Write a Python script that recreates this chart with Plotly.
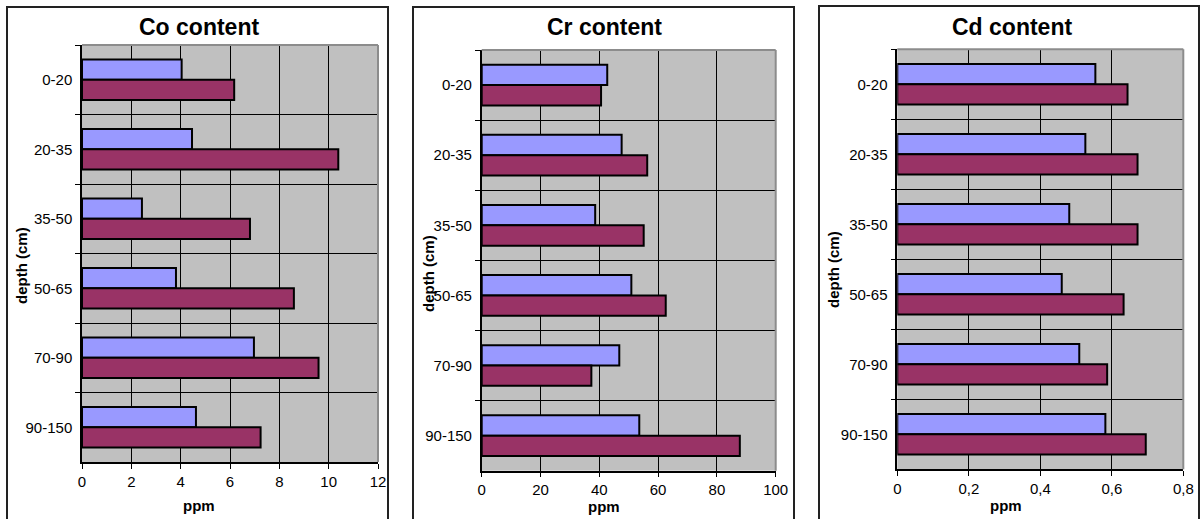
import plotly.graph_objects as go

depths = ["0-20", "20-35", "35-50", "50-65", "70-90", "90-150"]

co_blue = [4.04, 4.46, 2.43, 3.81, 6.97, 4.62]
co_red = [6.17, 10.39, 6.81, 8.59, 9.59, 7.24]

cr_blue = [42.7, 47.6, 38.6, 50.9, 46.8, 53.6]
cr_red = [40.6, 56.3, 55.1, 62.6, 37.3, 87.8]

cd_blue = [0.554, 0.526, 0.481, 0.460, 0.509, 0.582]
cd_red = [0.644, 0.672, 0.672, 0.633, 0.587, 0.695]

titles = ["Co content", "Cr content", "Cd content"]
x_ranges = [[0, 12], [0, 100], [0, 0.8]]
x_dticks = [2, 20, 0.2]

W, H = 1200, 519
BLUE = "#9999FF"
RED = "#993366"
FONT = "Arial, Liberation Sans, sans-serif"


def px(x):
    return x / W


def py(y):
    return 1 - y / H


# plot areas in pixels: (left, right, top, bottom)
areas = [(82, 378, 45, 462), (481.7, 775.7, 50, 470.7), (897.3, 1183.3, 49.3, 469.3)]
frames = [(7, 388, 7), (413, 794, 7), (819, 1199, 6)]
title_pos = [(199, 27), (604, 27), (1012, 27)]
ytitle_pos = [(21, 266), (428, 274), (833, 270)]
xtitle_pos = [(199, 505), (604, 506), (1006, 505)]

series = [(co_blue, co_red), (cr_blue, cr_red), (cd_blue, cd_red)]

fig = go.Figure()
layout = dict(
    template="none",
    width=W, height=H, autosize=False,
    margin=dict(l=0, r=0, t=0, b=0, pad=0),
    paper_bgcolor="white",
    plot_bgcolor="#C0C0C0",
    showlegend=False,
    barmode="group",
    bargap=0.42,
    bargroupgap=0,
    separators=", ",
    font=dict(family=FONT, size=15, color="black"),
)

shapes = []
annotations = []

for i, (blue, red) in enumerate(series):
    sfx = "" if i == 0 else str(i + 1)
    xa, ya = "x" + sfx, "y" + sfx
    for vals, col in ((blue, BLUE), (red, RED)):
        fig.add_trace(go.Bar(
            y=depths, x=vals, orientation="h",
            marker=dict(color=col, line=dict(color="black", width=2)),
            xaxis=xa, yaxis=ya, hoverinfo="x+y",
        ))
    l, r, t, b = areas[i]
    layout["xaxis" + sfx] = dict(
        domain=[px(l), px(r)], anchor=ya, range=x_ranges[i], dtick=x_dticks[i],
        tick0=0, showgrid=True, gridcolor="black", gridwidth=1, zeroline=False,
        showline=True, linecolor="black", linewidth=1.5, automargin=False,
        ticks="outside", ticklen=5, tickcolor="black", tickwidth=1,
        tickfont=dict(size=15, family=FONT, color="black"),
    )
    layout["yaxis" + sfx] = dict(
        domain=[py(b), py(t)], anchor=xa, autorange="reversed",
        type="category", tickson="boundaries", showgrid=True,
        gridcolor="black", gridwidth=1, showline=True, linecolor="black",
        linewidth=1.5, ticks="outside", ticklen=5, tickcolor="black", tickwidth=1,
        tickfont=dict(size=15, family=FONT, color="black"), zeroline=False,
        automargin=False, ticklabelstandoff=5,
    )
    # gray top / right border of plot area
    shapes.append(dict(type="line", xref="paper", yref="paper",
                       x0=px(l), x1=px(r), y0=py(t), y1=py(t),
                       line=dict(color="#8C8C8C", width=2)))
    shapes.append(dict(type="line", xref="paper", yref="paper",
                       x0=px(r), x1=px(r), y0=py(t), y1=py(b),
                       line=dict(color="#8C8C8C", width=2)))
    # chart frame
    fl, fr, ft = frames[i]
    shapes.append(dict(type="path", xref="paper", yref="paper",
                       path=f"M {px(fl)},{py(H + 20)} L {px(fl)},{py(ft)} L {px(fr)},{py(ft)} L {px(fr)},{py(H + 20)}",
                       line=dict(color="#222222", width=2)))
    tx, ty = title_pos[i]
    annotations.append(dict(text="<b>" + titles[i] + "</b>", x=px(tx), y=py(ty),
                            xref="paper", yref="paper", showarrow=False,
                            xanchor="center", yanchor="middle",
                            font=dict(size=23, family=FONT, color="black")))
    yx, yy = ytitle_pos[i]
    annotations.append(dict(text="<b>depth (cm)</b>", x=px(yx), y=py(yy),
                            xref="paper", yref="paper", showarrow=False,
                            textangle=-90, xanchor="center", yanchor="middle",
                            font=dict(size=15, family=FONT, color="black")))
    xx, xy = xtitle_pos[i]
    annotations.append(dict(text="<b>ppm</b>", x=px(xx), y=py(xy),
                            xref="paper", yref="paper", showarrow=False,
                            xanchor="center", yanchor="middle",
                            font=dict(size=15, family=FONT, color="black")))

layout["shapes"] = shapes
layout["annotations"] = annotations
fig.update_layout(**layout)
fig.write_html(
    "out.html",
    config={"displayModeBar": False},
    post_script="document.body.style.margin='0';document.body.style.overflow='hidden';",
)
